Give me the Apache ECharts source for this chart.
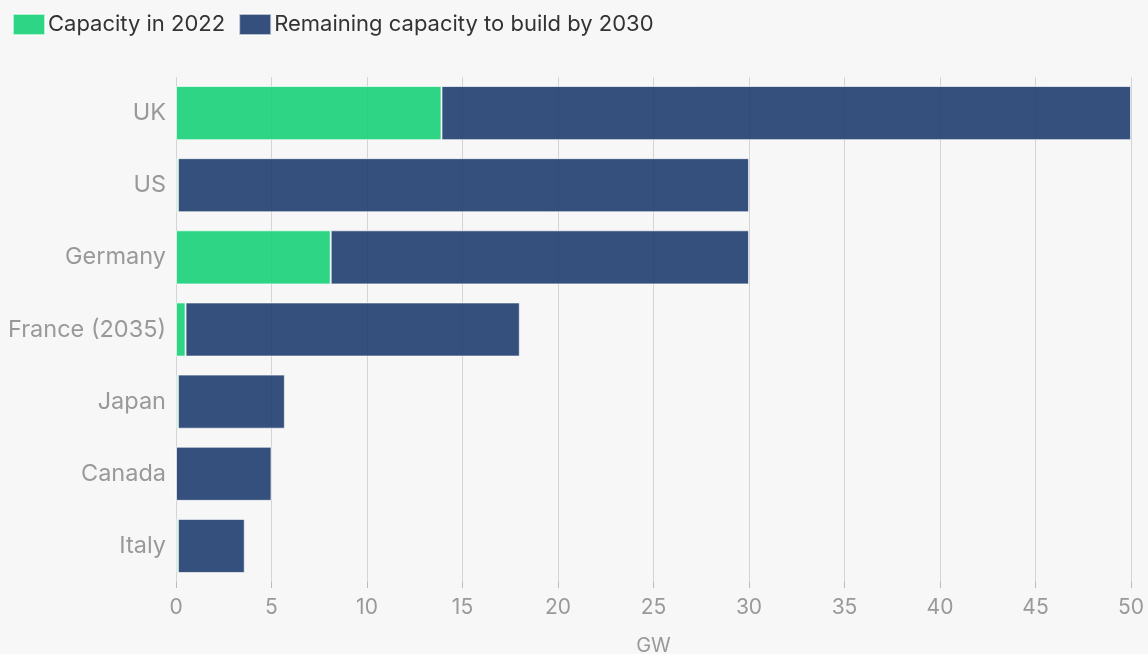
<!DOCTYPE html>
<html>
<head>
<meta charset="utf-8">
<style>
  html, body { margin: 0; padding: 0; background: #f7f7f7; }
  #chart { width: 1148px; height: 654px; }
</style>
<script src="https://cdn.jsdelivr.net/npm/echarts@6/dist/echarts.min.js"></script>
</head>
<body>
<div id="chart"></div>
<script>
  const countries = ["UK", "US", "Germany", "France (2035)", "Japan", "Canada", "Italy"];
  const capacity2022 = [13.9, 0.1, 8.1, 0.5, 0.1, 0, 0.1];
  const remaining2030 = [36.1, 29.9, 21.9, 17.5, 5.6, 5.0, 3.5];
  const xTicks = [0, 5, 10, 15, 20, 25, 30, 35, 40, 45, 50];

  const chart = echarts.init(document.getElementById("chart"));
  const font = "Inter, 'Noto Sans', sans-serif";

  chart.setOption({
    backgroundColor: "#f7f7f7",
    textStyle: { fontFamily: font },
    legend: {
      left: 7,
      top: 8,
      icon: "rect",
      itemWidth: 32,
      itemHeight: 21,
      itemGap: 13,
      textStyle: { color: "#333", fontSize: 22, fontFamily: font, padding: [0, 0, 0, -2] },
      data: ["Capacity in 2022", "Remaining capacity to build by 2030"],
    },
    grid: {
      left: 176,
      right: 17,
      top: 77,
      bottom: 72,
      outerBoundsMode: "none",
    },
    xAxis: {
      type: "value",
      min: xTicks[0],
      max: xTicks[xTicks.length - 1],
      interval: 5,
      name: "GW",
      nameLocation: "middle",
      nameGap: 54,
      nameTextStyle: { color: "#999", fontSize: 20, fontFamily: font },
      axisLine: { show: false },
      axisTick: { show: true, length: 6, lineStyle: { color: "#bbb" } },
      axisLabel: { color: "#999", fontSize: 21, margin: 15, fontFamily: font },
      splitLine: { show: true, lineStyle: { color: "#d4d4d4", width: 1 } },
    },
    yAxis: {
      type: "category",
      data: countries,
      inverse: true,
      axisLine: { show: false },
      axisTick: { show: false },
      axisLabel: { color: "#999", fontSize: 23.5, margin: 10, fontFamily: font },
    },
    series: [
      {
        name: "Capacity in 2022",
        type: "bar",
        stack: "total",
        barWidth: "75%",
        data: capacity2022,
        itemStyle: {
          color: "#17d078",
          opacity: 0.9,
          borderColor: "rgba(255,255,255,0.7)",
          borderWidth: 1,
        },
      },
      {
        name: "Remaining capacity to build by 2030",
        type: "bar",
        stack: "total",
        barWidth: "75%",
        data: remaining2030,
        itemStyle: {
          color: "#1f3d6e",
          opacity: 0.9,
          borderColor: "rgba(255,255,255,0.7)",
          borderWidth: 1,
        },
      },
    ],
  });
</script>
</body>
</html>
